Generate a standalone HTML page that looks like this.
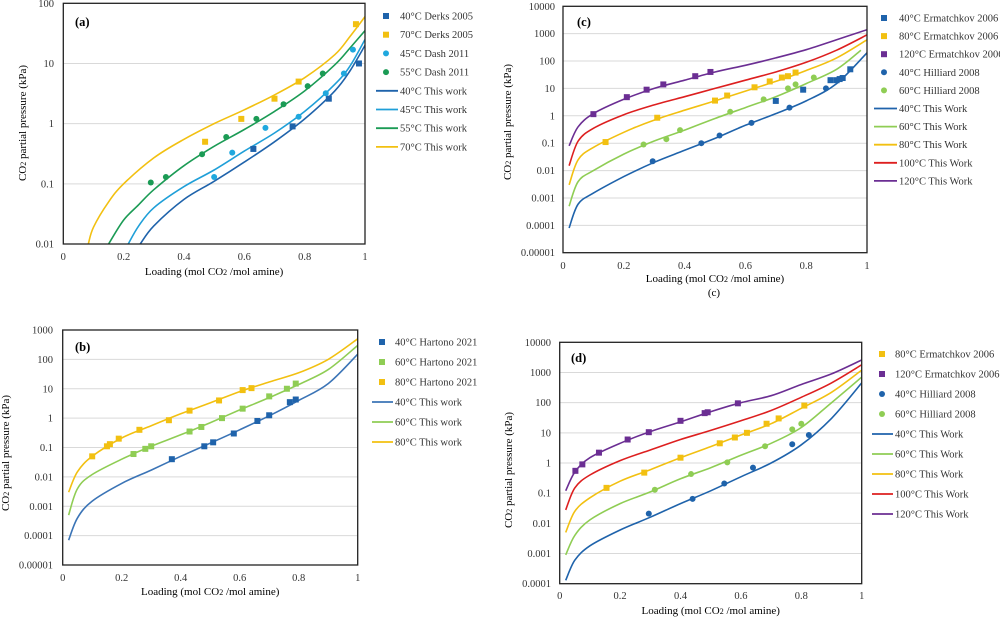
<!DOCTYPE html>
<html><head><meta charset="utf-8"><style>
body{margin:0;background:#fff}
svg{display:block;font-family:"Liberation Serif",serif}
</style></head><body>
<svg id="fig" width="1000" height="618" viewBox="0 0 1000 618" xmlns="http://www.w3.org/2000/svg"></svg>
<script>
// ---------- Panel (a) data ----------
const aX70=[0.083,0.1,0.15,0.2,0.3,0.4,0.5,0.6,0.7,0.8,0.9,0.95,1.0];
const aY70=[0.01,0.019,0.05,0.1,0.27,0.55,1.0,1.7,3.0,5.8,14,28,60];
const aX55=[0.15,0.2,0.25,0.3,0.4,0.5,0.6,0.7,0.8,0.9,0.95,1.0];
const aY55=[0.01,0.025,0.045,0.08,0.2,0.42,0.8,1.6,3.5,9.5,18,35];
const aX45=[0.215,0.25,0.3,0.4,0.5,0.6,0.7,0.8,0.9,0.95,1.0];
const aY45=[0.01,0.02,0.04,0.09,0.17,0.35,0.7,1.6,4.5,9,25];
const aX40=[0.255,0.3,0.4,0.5,0.6,0.7,0.8,0.9,0.95,1.0];
const aY40=[0.01,0.02,0.055,0.11,0.23,0.5,1.2,3.5,7.5,20];
const aPx40D=[0.63,0.76,0.88,0.98], aPy40D=[0.38,0.9,2.6,10];
const aPx70D=[0.47,0.59,0.70,0.78,0.97], aPy70D=[0.5,1.2,2.6,5,45];
const aPx45=[0.50,0.56,0.67,0.78,0.87,0.93,0.96], aPy45=[0.13,0.33,0.85,1.3,3.2,6.8,17];
const aPx55=[0.29,0.34,0.46,0.54,0.64,0.73,0.81,0.86], aPy55=[0.105,0.13,0.31,0.6,1.2,2.1,4.2,6.8];
const aYTicks=["100","10","1","0.1","0.01"];
// ---------- Panel (c) data ----------
const cX=[0.02,0.05,0.1,0.2,0.3,0.4,0.5,0.6,0.7,0.8,0.9,1.0];
const cY40=[0.00008,0.0006,0.0015,0.006,0.02,0.055,0.15,0.45,1.2,3.5,15,200];
const cX60=[0.02,0.05,0.1,0.2,0.3,0.4,0.5,0.6,0.7,0.8,0.9,0.98];
const cY60=[0.0005,0.004,0.01,0.04,0.12,0.3,0.8,2,5,15,50,250];
const cY80=[0.003,0.025,0.07,0.25,0.7,1.6,3.5,8,18,45,130,600];
const cY100=[0.015,0.12,0.35,1.1,2.5,5,10,20,40,90,250,900];
const cY120=[0.08,0.4,1.2,4,10,20,40,70,130,260,600,1400];
const cPx40E=[0.70,0.79,0.88,0.90,0.91,0.92,0.945], cPy40E=[3.5,9,20,20,22,24,50];
const cPx80E=[0.14,0.31,0.50,0.54,0.63,0.68,0.72,0.74,0.765], cPy80E=[0.11,0.85,3.6,5.5,11,18,25,28,38];
const cPx120E=[0.10,0.21,0.275,0.33,0.435,0.485], cPy120E=[1.15,4.8,9,14,28,40];
const cPx40H=[0.295,0.455,0.515,0.62,0.745,0.865], cPy40H=[0.022,0.1,0.19,0.55,2,10];
const cPx60H=[0.265,0.34,0.385,0.55,0.66,0.74,0.765,0.825], cPy60H=[0.09,0.14,0.3,1.4,4,10,14,25];
const cYTicks=["10000","1000","100","10","1","0.1","0.01","0.001","0.0001","0.00001"];
// ---------- Panel (b) data ----------
const bX=[0.02,0.05,0.1,0.2,0.3,0.4,0.5,0.6,0.7,0.8,0.9,1.0];
const bY40=[0.00007,0.0004,0.0015,0.006,0.017,0.05,0.14,0.4,1.2,4,15,150];
const bY60=[0.0005,0.004,0.012,0.04,0.11,0.27,0.7,1.9,5,14,45,300];
const bY80=[0.003,0.015,0.05,0.21,0.55,1.4,3.3,8,17,35,100,500];
const bPx40=[0.37,0.48,0.51,0.58,0.66,0.70,0.77,0.79], bPy40=[0.04,0.11,0.15,0.3,0.8,1.25,3.5,4.3];
const bPx60=[0.24,0.28,0.30,0.43,0.47,0.54,0.61,0.70,0.76,0.79], bPy60=[0.06,0.09,0.11,0.35,0.5,1.0,2.1,5.5,10,15];
const bPx80=[0.10,0.15,0.16,0.19,0.26,0.36,0.43,0.53,0.61,0.64], bPy80=[0.05,0.11,0.13,0.2,0.4,0.85,1.8,4,9,10.5];
const bYTicks=["1000","100","10","1","0.1","0.01","0.001","0.0001","0.00001"];
// ---------- Panel (d) data ----------
const dX=[0.02,0.05,0.1,0.2,0.3,0.4,0.5,0.6,0.7,0.8,0.9,1.0];
const dY40=[0.00013,0.0006,0.0018,0.006,0.016,0.045,0.12,0.35,1.0,4,30,450];
const dY60=[0.0009,0.004,0.013,0.045,0.11,0.3,0.7,1.8,4.5,15,100,700];
const dY80=[0.005,0.025,0.07,0.25,0.6,1.5,3.5,8.5,20,65,220,1200];
const dY100=[0.028,0.15,0.4,1.2,2.7,6,12,25,55,150,450,1800];
const dY120=[0.12,0.5,1.5,4.5,11,23,50,100,170,400,900,2600];
const dPx80E=[0.155,0.28,0.40,0.53,0.58,0.62,0.685,0.725,0.81], dPy80E=[0.15,0.48,1.5,4.5,7,10,20,30,80];
const dPx120E=[0.052,0.075,0.13,0.225,0.295,0.40,0.48,0.49,0.59], dPy120E=[0.55,0.9,2.2,6,10.5,25,45,48,95];
const dPx40H=[0.295,0.44,0.545,0.64,0.77,0.825], dPy40H=[0.021,0.065,0.21,0.7,4.2,8.5];
const dPx60H=[0.315,0.435,0.555,0.68,0.77,0.80], dPy60H=[0.13,0.43,1.05,3.6,13,20];
const dYTicks=["10000","1000","100","10","1","0.1","0.01","0.001","0.0001"];
const xTicks=["0","0.2","0.4","0.6","0.8","1"];

const NS="http://www.w3.org/2000/svg";
const svg=document.getElementById('fig');
function mk(tag,attrs,parent){const e=document.createElementNS(NS,tag);for(const k in attrs)e.setAttribute(k,attrs[k]);(parent||svg).appendChild(e);return e;}
function spline(P){
  let d='M'+P[0][0].toFixed(1)+','+P[0][1].toFixed(1);
  for(let i=0;i<P.length-1;i++){
    const p0=P[Math.max(0,i-1)],p1=P[i],p2=P[i+1],p3=P[Math.min(P.length-1,i+2)];
    const c1=[p1[0]+(p2[0]-p0[0])/6,p1[1]+(p2[1]-p0[1])/6];
    const c2=[p2[0]-(p3[0]-p1[0])/6,p2[1]-(p3[1]-p1[1])/6];
    d+='C'+c1[0].toFixed(1)+','+c1[1].toFixed(1)+' '+c2[0].toFixed(1)+','+c2[1].toFixed(1)+' '+p2[0].toFixed(1)+','+p2[1].toFixed(1);
  }
  return d;
}

function panel(o){
  const g=mk('g',{});
  
  
  const top=Math.log10(parseFloat(o.yt[0])), bot=Math.log10(parseFloat(o.yt[o.yt.length-1]));
  const sx=v=>o.L+(o.R-o.L)*v;
  const sy=v=>o.T+(o.B-o.T)*(top-Math.log10(v))/(top-bot);
  o.yt.forEach((t,i)=>{const v=parseFloat(t);const y=sy(v);
    if(i>0&&i<o.yt.length-1){const gl=mk('line',{x1:o.L,x2:o.R,y1:y,y2:y,stroke:'#d9d9d9','stroke-width':1},g);
      }
    const tx=mk('text',{x:o.yLabX,y:y+3.5,'text-anchor':'end','font-size':10.5,fill:'#333'},g);tx.textContent=t;
    
  });
  xTicks.forEach(t=>{const tx=mk('text',{x:sx(parseFloat(t)),y:o.xLabY,'text-anchor':'middle','font-size':10.5,fill:'#333'},g);tx.textContent=t;
    });
  const clip=mk('clipPath',{id:'clip'+o.id},g);mk('rect',{x:o.L,y:o.T,width:o.R-o.L,height:o.B-o.T},clip);
  const pg=mk('g',{'clip-path':'url(#clip'+o.id+')'},g);
  o.lines.forEach(s=>{
    const P=s.x.map((v,i)=>[sx(v),sy(s.y[i])]);
    const p=mk('path',{d:spline(P),fill:'none',stroke:s.c,'stroke-width':1.6},pg);
    
  });
  o.pts.forEach(s=>{
    s.x.forEach((v,i)=>{let e;
      if(s.sq)e=mk('rect',{x:sx(v)-3,y:sy(s.y[i])-3,width:6,height:6,fill:s.c},pg);
      else e=mk('circle',{cx:sx(v),cy:sy(s.y[i]),r:3,fill:s.c},pg);
      });
  });
  const fr=mk('rect',{x:o.L,y:o.T,width:o.R-o.L,height:o.B-o.T,fill:'none',stroke:'#222','stroke-width':1.3},g);
  
  const lb=mk('text',{x:o.lab[0],y:o.lab[1]+4,'font-size':12.5,'font-weight':'bold'},g);lb.textContent='('+o.id+')';
  
  const xt=mk('text',{x:(o.L+o.R)/2,y:o.xTitY,'text-anchor':'middle','font-size':11},g);
  xt.innerHTML='Loading (mol CO<tspan font-size="8">2</tspan> /mol amine)';
  
  const yt=mk('text',{x:0,y:0,'text-anchor':'middle','font-size':11,transform:'translate('+o.yTit[0]+','+o.yTit[1]+') rotate(-90)'},g);
  yt.innerHTML='CO<tspan font-size="8">2</tspan> partial pressure (kPa)';
  
  const items=o.pts.map(s=>({n:s.n,c:s.c,sq:s.sq,t:s.t,k:'m'})).concat(o.lines.map(s=>({n:s.n,c:s.c,t:s.t,k:'l'})));
  items.forEach((it,i)=>{const y=o.leg[1]+i*o.leg[2];
    const lg=mk('g',{},g);
    if(it.k==='m'){ if(it.sq)mk('rect',{x:o.leg[0]-3,y:y-3,width:6,height:6,fill:it.c},lg); else mk('circle',{cx:o.leg[0],cy:y,r:3,fill:it.c},lg);}
    else mk('line',{x1:o.leg[0]-10,x2:o.leg[3]-2,y1:y,y2:y,stroke:it.c,'stroke-width':1.8},lg);
    const t=mk('text',{x:o.leg[3],y:y+3.5,'font-size':10.5,fill:'#333'},lg);t.textContent=it.t;});
}
const C40='#1f63ab',CLB='#1fa8de',CG='#1b9b55',CY='#f2c011',CLG='#8fcd54',CR='#dd1f1f',CP='#6b2e93',C45='#1f9fd8';
panel({id:'a',L:63.3,R:365,T:3.3,B:244,yt:aYTicks,yLabX:54,xLabY:260,xTitY:275,yTit:[26,123],lab:[75,22],leg:[386,16,18.7,400],
  lines:[{n:'40c-this-work',x:aX40,y:aY40,c:C40,t:'40°C This work'},{n:'45c-this-work',x:aX45,y:aY45,c:C45,t:'45°C This work'},
         {n:'55c-this-work',x:aX55,y:aY55,c:CG,t:'55°C This work'},{n:'70c-this-work',x:aX70,y:aY70,c:CY,t:'70°C This work'}],
  pts:[{n:'40c-derks',x:aPx40D,y:aPy40D,c:C40,sq:1,t:'40°C Derks 2005'},{n:'70c-derks',x:aPx70D,y:aPy70D,c:CY,sq:1,t:'70°C Derks 2005'},
       {n:'45c-dash',x:aPx45,y:aPy45,c:CLB,t:'45°C Dash 2011'},{n:'55c-dash',x:aPx55,y:aPy55,c:CG,t:'55°C Dash 2011'}]});
panel({id:'c',L:563,R:867,T:6.3,B:252.7,yt:cYTicks,yLabX:555,xLabY:269,xTitY:282,yTit:[511,122],lab:[577,22],leg:[884,18,18.1,899],
  lines:[{n:'40c-this-work',x:cX,y:cY40,c:C40,t:'40°C This Work'},{n:'60c-this-work',x:cX60,y:cY60,c:CLG,t:'60°C This Work'},
         {n:'80c-this-work',x:cX,y:cY80,c:CY,t:'80°C This Work'},{n:'100c-this-work',x:cX,y:cY100,c:CR,t:'100°C This Work'},
         {n:'120c-this-work',x:cX,y:cY120,c:CP,t:'120°C This Work'}],
  pts:[{n:'40c-ermatchkov',x:cPx40E,y:cPy40E,c:C40,sq:1,t:'40°C Ermatchkov 2006'},{n:'80c-ermatchkov',x:cPx80E,y:cPy80E,c:CY,sq:1,t:'80°C Ermatchkov 2006'},
       {n:'120c-ermatchkov',x:cPx120E,y:cPy120E,c:CP,sq:1,t:'120°C Ermatchkov 2006'},{n:'40c-hilliard',x:cPx40H,y:cPy40H,c:C40,t:'40°C Hilliard  2008'},
       {n:'60c-hilliard',x:cPx60H,y:cPy60H,c:CLG,t:'60°C Hilliard  2008'}]});
panel({id:'b',L:62.7,R:357.7,T:330,B:565,yt:bYTicks,yLabX:53,xLabY:581,xTitY:595,yTit:[9,453],lab:[75,347],leg:[382,342,20,395],
  lines:[{n:'40c-this-work',x:bX,y:bY40,c:'#3b74b6',t:'40°C This work'},{n:'60c-this-work',x:bX,y:bY60,c:CLG,t:'60°C This work'},
         {n:'80c-this-work',x:bX,y:bY80,c:CY,t:'80°C This work'}],
  pts:[{n:'40c-hartono',x:bPx40,y:bPy40,c:C40,sq:1,t:'40°C Hartono 2021'},{n:'60c-hartono',x:bPx60,y:bPy60,c:CLG,sq:1,t:'60°C Hartono 2021'},
       {n:'80c-hartono',x:bPx80,y:bPy80,c:CY,sq:1,t:'80°C Hartono 2021'}]});
panel({id:'d',L:559.7,R:861.7,T:342.3,B:583.7,yt:dYTicks,yLabX:551,xLabY:599,xTitY:614,yTit:[512,470],lab:[571,358],leg:[882,354,20,895],
  lines:[{n:'40c-this-work',x:dX,y:dY40,c:C40,t:'40°C This Work'},{n:'60c-this-work',x:dX,y:dY60,c:CLG,t:'60°C This Work'},
         {n:'80c-this-work',x:dX,y:dY80,c:CY,t:'80°C This Work'},{n:'100c-this-work',x:dX,y:dY100,c:CR,t:'100°C This Work'},
         {n:'120c-this-work',x:dX,y:dY120,c:CP,t:'120°C This Work'}],
  pts:[{n:'80c-ermatchkov',x:dPx80E,y:dPy80E,c:CY,sq:1,t:'80°C Ermatchkov 2006'},{n:'120c-ermatchkov',x:dPx120E,y:dPy120E,c:CP,sq:1,t:'120°C Ermatchkov 2006'},
       {n:'40c-hilliard',x:dPx40H,y:dPy40H,c:C40,t:'40°C Hilliard  2008'},{n:'60c-hilliard',x:dPx60H,y:dPy60H,c:CLG,t:'60°C Hilliard  2008'}]});
const cap=mk('text',{x:714,y:296,'text-anchor':'middle','font-size':11});cap.textContent='(c)';


</script>
</body></html>
